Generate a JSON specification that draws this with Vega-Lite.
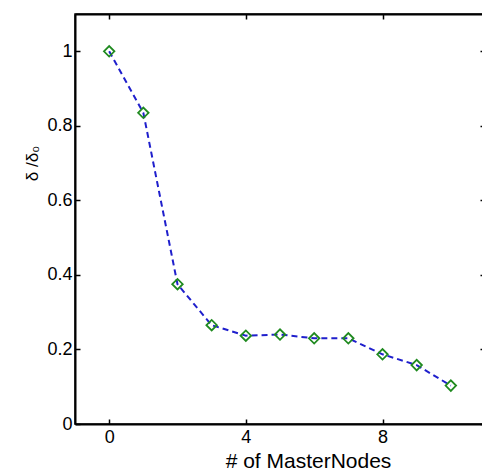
{
  "$schema": "https://vega.github.io/schema/vega-lite/v6.json",
  "width": 410,
  "height": 410,
  "autosize": {"type": "none"},
  "padding": {"left": 75, "top": 14, "right": 0, "bottom": 46},
  "background": "white",
  "config": {
    "view": {"stroke": "black", "strokeWidth": 1.5},
    "font": "Liberation Sans",
    "axis": {
      "domainColor": "black",
      "domainWidth": 2,
      "tickColor": "black",
      "tickWidth": 1.5,
      "tickSize": -5,
      "grid": false,
      "labelFont": "Liberation Sans",
      "labelFontSize": 18,
      "labelColor": "black",
      "titleFont": "Liberation Sans",
      "titleFontSize": 20,
      "titleFontWeight": "normal",
      "titleColor": "black"
    }
  },
  "data": {
    "values": [
      {"n": 0, "r": 1.0},
      {"n": 1, "r": 0.835},
      {"n": 2, "r": 0.375},
      {"n": 3, "r": 0.265},
      {"n": 4, "r": 0.237},
      {"n": 5, "r": 0.24},
      {"n": 6, "r": 0.23},
      {"n": 7, "r": 0.23},
      {"n": 8, "r": 0.187},
      {"n": 9, "r": 0.158},
      {"n": 10, "r": 0.103}
    ]
  },
  "layer": [
    {
      "encoding": {
        "x": {
          "field": "n",
          "type": "quantitative",
          "scale": {"domain": [-1, 11], "nice": false, "zero": false},
          "axis": {"values": [0, 4, 8], "title": "# of MasterNodes", "labelPadding": 9, "titleX": 233, "titleY": 43, "titleAlign": "center", "titleBaseline": "alphabetic", "titleFontSize": 21}
        },
        "y": {
          "field": "r",
          "type": "quantitative",
          "scale": {"domain": [0, 1.1], "nice": false},
          "axis": {"values": [0, 0.2, 0.4, 0.6, 0.8, 1], "format": "~g", "title": "δ /δ₀", "labelPadding": 8, "titleX": -38, "titleY": 149, "titleAngle": -90, "titleAlign": "center", "titleBaseline": "alphabetic", "titleFontSize": 17}
        }
      },
      "layer": [
        {
          "mark": {"type": "line", "color": "#1f1fcc", "strokeWidth": 2, "strokeDash": [6, 4]}
        },
        {
          "mark": {"type": "point", "shape": "diamond", "filled": false, "color": "#1f8a1f", "strokeWidth": 1.8, "size": 110, "opacity": 1}
        }
      ]
    },
    {
      "mark": {"type": "point", "opacity": 0},
      "encoding": {
        "x": {
          "field": "n",
          "type": "quantitative",
          "scale": {"domain": [-1, 11], "nice": false, "zero": false},
          "axis": {"orient": "top", "values": [0, 4, 8], "labels": false, "title": null}
        },
        "y": {
          "field": "r",
          "type": "quantitative",
          "scale": {"domain": [0, 1.1], "nice": false},
          "axis": {"orient": "right", "values": [0, 0.2, 0.4, 0.6, 0.8, 1], "labels": false, "title": null}
        }
      }
    }
  ],
  "resolve": {"scale": {"x": "independent", "y": "independent"}, "axis": {"x": "independent", "y": "independent"}}
}
